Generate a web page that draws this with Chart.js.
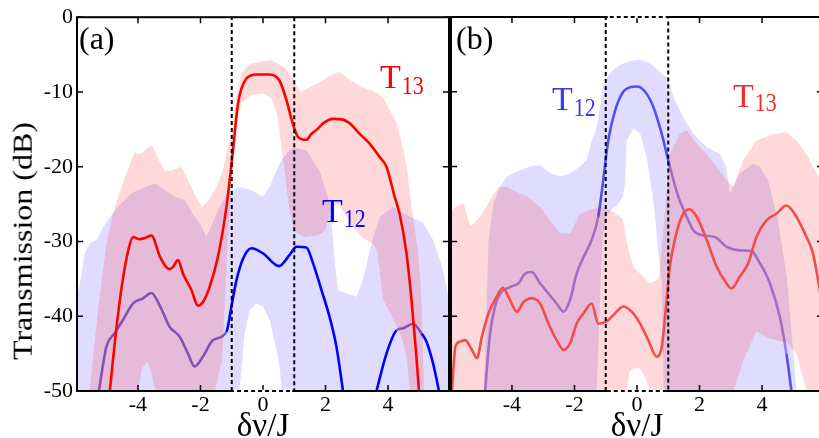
<!DOCTYPE html>
<html>
<head>
<meta charset="utf-8">
<script src="https://cdn.jsdelivr.net/npm/chart.js@4.4.0/dist/chart.umd.min.js"></script>
<style>
html, body { margin: 0; padding: 0; overflow: hidden; background: #fff; width: 819px; height: 438px; }
.panel { position: absolute; top: 0; height: 438px; }
#boxA { left: 0; width: 450px; }
#boxB { left: 450px; width: 374px; }
.lbl { position: absolute; font-family: 'Liberation Serif', 'Times New Roman', serif; line-height: 1; white-space: nowrap; }
.sub { position: relative; display: inline-block; font-size: 22px; transform: scaleY(1.15); transform-origin: bottom; margin-left: 1px; }
#ytitle { left: -128px; top: 225px; width: 300px; text-align: center; font-size: 32px; transform: rotate(-90deg) scaleY(0.85); }
</style>
</head>
<body>
<div class="panel" id="boxA"><canvas id="chartA"></canvas></div>
<div class="panel" id="boxB"><canvas id="chartB"></canvas></div>

<div class="lbl" id="ytitle">Transmission (dB)</div>
<div class="lbl" style="left:79px;top:22px;font-size:32px">(a)</div>
<div class="lbl" style="left:456px;top:22px;font-size:32px">(b)</div>
<div class="lbl" style="left:380px;top:60px;font-size:34px;color:#ff0000">T<span class="sub" style="top:7px">13</span></div>
<div class="lbl" style="left:322px;top:194px;font-size:34px;color:#0000ff">T<span class="sub" style="top:6px">12</span></div>
<div class="lbl" style="left:552px;top:82px;font-size:34px;color:#3a3af0">T<span class="sub" style="top:7px">12</span></div>
<div class="lbl" style="left:733px;top:79px;font-size:34px;color:#f03030">T<span class="sub" style="top:5px">13</span></div>

<script>
var xMin = -5.95, xMax = 5.95;
var yMin = -50, yMax = 0;
var windowEdges = [-1, 1];

// panel (a): bands are [x, upper, lower], lines are [x, y]
var t13BandA = [
    [-5.55,-50,-50],[-5.3,-40,-50],[-5.0,-30,-50],[-4.74,-25.4,-50],[-4.42,-21.4,-50],
    [-4.1,-18,-50],[-4.0,-18.3,-50],[-3.87,-18.2,-47],[-3.7,-17.5,-46],[-3.55,-17.1,-48],
    [-3.45,-18,-50],[-3.36,-18.9,-50],[-3.14,-20.5,-50],[-2.91,-20.5,-50],[-2.6,-20,-50],
    [-2.4,-21.8,-50],[-2.15,-24,-50],[-1.95,-25.4,-50],[-1.75,-24.5,-50],[-1.54,-23.1,-50],
    [-1.31,-20.9,-46],[-1.15,-18,-32],[-0.99,-15.5,-20],[-0.85,-11,-14],[-0.7,-7.5,-11.5],
    [-0.38,-6.2,-10.4],[0,-5.9,-10.2],[0.26,-5.7,-10.8],[0.45,-6.2,-13],[0.67,-6.7,-20],
    [0.85,-7.6,-26],[0.99,-8.4,-28.5],[1.2,-10,-29.2],[1.3,-9.8,-29.4],[1.76,-8.8,-29.2],
    [2.0,-8.2,-28.5],[2.17,-7.8,-25.5],[2.43,-7.3,-25],[2.78,-8.4,-27.5],[3.2,-9.4,-29.6],
    [3.5,-9.8,-30.2],[3.65,-10.2,-31.1],[3.84,-10.7,-37.8],[4.0,-12,-39],[4.28,-14.2,-41.4],
    [4.45,-17,-43],[4.6,-20,-45.5],[4.7,-23.5,-50],[4.8,-26.7,-50],[4.95,-31,-50],
    [5.05,-36,-50],[5.1,-42,-50],[5.15,-50,-50]
];
var t12BandA = [
    [-5.95,-37,-50],[-5.87,-36,-50],[-5.7,-31.6,-50],[-5.54,-30.2,-50],[-5.33,-29.8,-50],
    [-5.1,-28,-50],[-4.8,-26.2,-50],[-4.64,-25.4,-50],[-4.2,-23.5,-50],[-3.78,-22.7,-50],
    [-3.46,-22.2,-50],[-3.14,-23.1,-50],[-2.82,-24,-50],[-2.5,-24.5,-50],[-2.27,-26.2,-50],
    [-2.03,-27.5,-50],[-1.81,-29.4,-50],[-1.49,-26.3,-50],[-1.17,-23.6,-50],[-0.75,-22.7,-50],
    [-0.59,-22.9,-42.3],[-0.43,-23,-39.2],[-0.21,-23.5,-38.3],[0,-24,-38.7],[0.21,-22.7,-40.5],
    [0.43,-20.5,-44.5],[0.54,-19.5,-47],[0.6,-19,-50],[0.96,-17.4,-50],[1.4,-17.8,-50],
    [1.82,-20.7,-50],[2.14,-24.9,-50],[2.3,-33,-50],[2.4,-36.5,-50],[2.7,-37,-50],
    [3.0,-37.4,-50],[3.2,-35,-50],[3.4,-31.5,-50],[3.52,-29.5,-50],[3.74,-26.7,-50],
    [4.16,-25.4,-50],[4.7,-26.7,-50],[5.12,-27.5,-50],[5.44,-29.8,-50],[5.76,-33.8,-50],
    [5.95,-38,-50]
];
var t13LineA = [
    [-4.9,-50],[-4.7,-42],[-4.5,-35.5],[-4.3,-31],[-4.16,-29.4],[-3.95,-29.7],[-3.75,-29.5],
    [-3.57,-29.2],[-3.3,-32],[-3.1,-33.4],[-2.99,-33.7],[-2.88,-33.4],[-2.72,-32.5],[-2.56,-34.3],
    [-2.29,-36.5],[-2.08,-38.6],[-1.92,-38.1],[-1.71,-36.1],[-1.44,-32],[-1.17,-25.4],
    [-0.96,-17.8],[-0.8,-11.6],[-0.53,-8.2],[-0.21,-7.66],[0.21,-7.66],[0.53,-8.5],[0.75,-11.1],
    [0.91,-13.6],[1.12,-16],[1.39,-16.4],[1.55,-15.6],[1.76,-14.9],[1.92,-14.2],[2.24,-13.6],
    [2.56,-13.7],[2.77,-14.2],[3.09,-15.6],[3.41,-16.9],[3.73,-18.7],[3.95,-20],[4.21,-24],
    [4.37,-26.3],[4.59,-31.6],[4.75,-37.8],[4.89,-44.5],[4.99,-50]
];
var t12LineA = [
    [-5.25,-50],[-5.01,-44.1],[-4.75,-42.3],[-4.48,-40.5],[-4.16,-38.3],[-3.84,-37.6],
    [-3.57,-36.9],[-3.31,-38.5],[-2.99,-41.4],[-2.67,-42.7],[-2.4,-45],[-2.19,-46.7],
    [-1.92,-45.4],[-1.6,-43.2],[-1.17,-42.1],[-1.01,-38.7],[-0.85,-35.2],[-0.64,-32.3],
    [-0.37,-30.9],[0,-31.6],[0.51,-33.3],[0.85,-31.8],[1.07,-30.7],[1.39,-30.8],[1.6,-32.9],
    [1.87,-36.5],[2.13,-40.1],[2.35,-44.1],[2.56,-50],[3.1,null],[3.63,-50],[3.95,-45],
    [4.27,-41.9],[4.48,-41.6],[4.8,-41],[5.07,-42.3],[5.23,-43.4],[5.44,-46.3],[5.63,-50]
];

// panel (b)
var t13BandB = [
    [-5.95,-26,-50],[-5.81,-25.4,-50],[-5.55,-24.9,-50],[-5.33,-28,-50],[-5.02,-26.7,-50],
    [-4.7,-24.5,-50],[-4.43,-22.7,-50],[-4.16,-22.7,-50],[-3.84,-23.4,-50],[-3.52,-24,-50],
    [-3.1,-25.4,-50],[-2.78,-27.2,-50],[-2.46,-28.9,-50],[-2.14,-28.9,-50],[-1.82,-26.3,-50],
    [-1.5,-25.8,-50],[-1.18,-25.4,-50],[-0.76,-26,-50],[-0.45,-27,-50],[-0.33,-30,-50],
    [-0.25,-31.5,-47.5],[-0.1,-33.5,-47],[0.1,-34.3,-47],[0.3,-35.2,-48.5],[0.42,-35.6,-50],
    [0.7,-35,-50],[0.85,-28,-50],
    [1.05,-18.3,-50],[1.37,-15.6,-50],[1.59,-15.1,-50],[1.9,-16.9,-50],[2.23,-18.3,-50],
    [2.55,-20,-50],[2.86,-21.8,-50],[3.08,-22.7,-50],[3.4,-19.1,-46],[3.82,-16.5,-42],
    [4.25,-15.8,-43],[4.78,-15.4,-43.5],[5.1,-16.5,-45],[5.42,-18.3,-50],[5.74,-20.9,-50],
    [5.95,-22.5,-50]
];
var t12BandB = [
    [-4.9,-50,-50],[-4.75,-30,-50],[-4.6,-25,-50],[-4.38,-22.7,-50],[-4.16,-21.3,-50],
    [-3.84,-20.7,-50],[-3.42,-20,-50],[-3.1,-19.8,-50],[-2.78,-20.9,-50],[-2.46,-21.3,-50],
    [-2.14,-20.9,-50],[-1.82,-20,-50],[-1.61,-19.1,-50],[-1.5,-17.3,-50],[-1.29,-14.7,-50],
    [-1.15,-11,-34],[-1.09,-9.3,-29],[-0.95,-8,-26.5],[-0.77,-7.1,-25.5],[-0.6,-6.6,-25],
    [-0.45,-6.2,-24],[-0.38,-6.1,-22],[-0.33,-6,-16.5],
    [-0.12,-5.8,-14.9],[0.1,-5.7,-15.6],[0.31,-6,-18.7],[0.52,-6.5,-24.5],[0.68,-7.2,-31.2],
    [0.79,-7.6,-35.6],[0.85,-7.8,-50],[0.95,-8,-50],[1.21,-11.1,-50],[1.48,-13.4,-50],
    [1.8,-15.6,-50],[2.23,-17.4,-50],[2.65,-18.3,-50],[2.85,-20,-50],[2.97,-23.6,-50],
    [3.1,-22.5,-50],[3.29,-20.9,-50],[3.72,-19.6,-50],[3.93,-20,-50],[4.2,-22,-50],
    [4.5,-27,-50],[4.8,-35,-50],[5.0,-45,-50],[5.1,-50,-50]
];
var t13LineB = [
    [-5.92,-50],[-5.81,-44.1],[-5.65,-43.4],[-5.5,-43.2],[-5.28,-44.5],[-5.12,-45.6],
    [-4.96,-42.7],[-4.75,-39.6],[-4.54,-37.8],[-4.29,-36.2],[-4.11,-37.4],[-3.84,-39.4],
    [-3.63,-38.1],[-3.37,-37.6],[-3.1,-38.3],[-2.83,-41],[-2.57,-43.2],[-2.35,-44.5],
    [-2.14,-43.6],[-1.93,-41],[-1.71,-39.6],[-1.45,-38.3],[-1.24,-41],[-0.97,-40.7],
    [-0.7,-39.6],[-0.44,-38.7],[-0.17,-39.4],[0.1,-41],[0.36,-43.2],[0.63,-45.4],[0.79,-44.1],
    [0.95,-37.8],[1.05,-33.4],[1.21,-29.8],[1.43,-26.7],[1.67,-25.7],[1.91,-26.7],[2.23,-29.8],
    [2.55,-33.4],[2.86,-35.6],[3.02,-36.3],[3.29,-34.7],[3.56,-32.9],[3.82,-29.4],[4.14,-27.2],
    [4.46,-26.3],[4.78,-25.2],[5.1,-26.7],[5.42,-29.4],[5.63,-31.6],[5.81,-35.6],[5.95,-39]
];
var t12LineB = [
    [-4.86,-50],[-4.7,-42.3],[-4.54,-38.7],[-4.38,-37],[-4.06,-36.1],[-3.79,-35.6],[-3.58,-34.3],
    [-3.37,-34.1],[-3.1,-35.6],[-2.83,-37],[-2.57,-38.3],[-2.35,-39.4],[-2.14,-37.8],[-1.93,-34.3],
    [-1.71,-32.1],[-1.45,-29.8],[-1.24,-26.7],[-1.08,-21.8],[-0.92,-16.5],[-0.7,-12.5],
    [-0.44,-10],[-0.22,-9.4],[0,-9.3],[0.26,-10],[0.52,-12],[0.79,-15.6],[1.05,-20],[1.32,-24],
    [1.59,-26.7],[1.8,-28.5],[2.12,-29.2],[2.49,-29.4],[2.86,-30.7],[3.29,-31.2],[3.66,-31.3],
    [3.93,-32.9],[4.25,-35.6],[4.57,-40.1],[4.78,-45],[4.94,-50]
];

var FONT = "'Liberation Serif', 'Times New Roman', serif";
var PINK = 'rgba(255,0,0,0.15)';
var LAVENDER = 'rgba(100,80,255,0.2)';

function toPts(arr, col) {
    return arr.map(function (p) { return {x: p[0], y: p[col]}; });
}

// is (x, y) inside a band? used to tint the T12 line where the T13 band covers it
function inBand(band, x, y) {
    for (var i = 0; i < band.length - 1; i++) {
        var a = band[i], b = band[i + 1];
        if (x >= a[0] && x <= b[0]) {
            var t = (x - a[0]) / (b[0] - a[0]);
            var hi = a[1] + t * (b[1] - a[1]);
            var lo = a[2] + t * (b[2] - a[2]);
            return y < hi && y > lo;
        }
    }
    return false;
}

function bandSets(band, color, order) {
    return [
        {data: toPts(band, 1), borderWidth: 0, pointRadius: 0, fill: '+1', backgroundColor: color, order: order},
        {data: toPts(band, 2), borderWidth: 0, pointRadius: 0, fill: false, order: order}
    ];
}

function lineSet(line, color, order, coverBand, coverColor) {
    var ds = {
        data: toPts(line, 1), borderColor: color, borderWidth: 2.6, pointRadius: 0,
        fill: false, cubicInterpolationMode: 'monotone', order: order
    };
    if (coverBand) {
        ds.segment = {
            borderColor: function (c) {
                var mx = (c.p0.parsed.x + c.p1.parsed.x) / 2;
                var my = (c.p0.parsed.y + c.p1.parsed.y) / 2;
                return inBand(coverBand, mx, my) ? coverColor : color;
            }
        };
    }
    return ds;
}

function framePlugin(dottedTop) {
    return {
        id: 'frame',
        afterDatasetsDraw: function (chart) {
            var ctx = chart.ctx, a = chart.chartArea;
            var xs = chart.scales.x, ys = chart.scales.y;
            var tl = 6;
            ctx.save();
            ctx.strokeStyle = '#000';
            ctx.lineWidth = 2;
            ctx.strokeRect(a.left, a.top, a.right - a.left, a.bottom - a.top);
            ctx.lineWidth = 1.5;
            ctx.beginPath();
            xs.ticks.forEach(function (t) {
                var px = xs.getPixelForValue(t.value);
                ctx.moveTo(px, a.bottom); ctx.lineTo(px, a.bottom - tl);
                ctx.moveTo(px, a.top); ctx.lineTo(px, a.top + tl);
            });
            ys.ticks.forEach(function (t) {
                var py = ys.getPixelForValue(t.value);
                ctx.moveTo(a.left, py); ctx.lineTo(a.left + tl, py);
                ctx.moveTo(a.right, py); ctx.lineTo(a.right - tl, py);
            });
            ctx.stroke();
            // dotted window between the edges
            var x0 = xs.getPixelForValue(windowEdges[0]);
            var x1 = xs.getPixelForValue(windowEdges[1]);
            ctx.strokeStyle = '#fff';
            ctx.lineWidth = 2.5;
            ctx.beginPath();
            if (dottedTop) { ctx.moveTo(x0 + 2, a.top); ctx.lineTo(x1 - 2, a.top); }
            ctx.moveTo(x0 + 2, a.bottom); ctx.lineTo(x1 - 2, a.bottom);
            ctx.stroke();
            ctx.strokeStyle = '#000';
            ctx.lineWidth = 2;
            ctx.setLineDash([4, 3]);
            ctx.beginPath();
            ctx.moveTo(x0, a.bottom); ctx.lineTo(x0, a.top);
            if (dottedTop) { ctx.lineTo(x1, a.top); } else { ctx.moveTo(x1, a.top); }
            ctx.lineTo(x1, a.bottom); ctx.lineTo(x0, a.bottom);
            ctx.stroke();
            ctx.restore();
        }
    };
}

function makeChart(id, sets, showY, dottedTop) {
    return new Chart(document.getElementById(id), {
        type: 'line',
        data: {datasets: sets},
        plugins: [framePlugin(dottedTop)],
        options: {
            responsive: true,
            maintainAspectRatio: false,
            animation: false,
            layout: {padding: {top: 17, right: 1, left: 0, bottom: 0}},
            plugins: {legend: {display: false}, tooltip: {enabled: false}},
            scales: {
                x: {
                    type: 'linear', min: xMin, max: xMax,
                    grid: {display: false, drawTicks: false}, border: {display: false},
                    ticks: {stepSize: 2, includeBounds: false, maxRotation: 0, autoSkip: false,
                        padding: 1, color: '#000', font: {family: FONT, size: 22}},
                    title: {display: true, text: 'δν/J', color: '#000',
                        font: {family: FONT, size: 33, lineHeight: 0.875}, padding: {top: 0, bottom: -4}},
                    afterFit: function (s) { s.height = 47; }
                },
                y: {
                    min: yMin, max: yMax,
                    grid: {display: false, drawTicks: false}, border: {display: false},
                    ticks: {display: showY, stepSize: 10, padding: 4, color: '#000',
                        font: {family: FONT, size: 22}},
                    afterFit: function (s) { s.width = showY ? 77 : 1; }
                }
            }
        }
    });
}

var setsA = [].concat(
    bandSets(t12BandA, LAVENDER, 4),
    [lineSet(t12LineA, '#0000ff', 3, t13BandA, 'rgb(115,95,215)')],
    bandSets(t13BandA, PINK, 2),
    [lineSet(t13LineA, '#ff0000', 1)]
);
var setsB = [].concat(
    bandSets(t12BandB, LAVENDER, 4),
    [lineSet(t12LineB, 'rgb(80,80,245)', 3, t13BandB, 'rgb(150,128,228)')],
    bandSets(t13BandB, PINK, 2),
    [lineSet(t13LineB, 'rgb(245,75,75)', 1)]
);

makeChart('chartA', setsA, true, false);
makeChart('chartB', setsB, false, true);
</script>
</body>
</html>
